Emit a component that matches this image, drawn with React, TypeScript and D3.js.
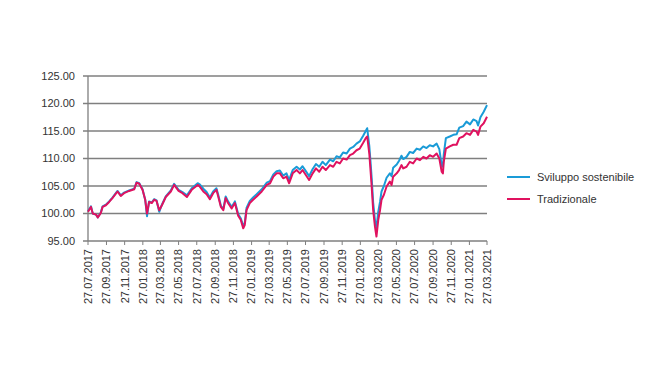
import React from "react";
import * as d3 from "d3";

const dates = [
  "2017-07-27","2017-08-06","2017-08-12","2017-08-23","2017-08-29","2017-09-08","2017-09-14","2017-09-25","2017-10-06","2017-10-17",
  "2017-11-03","2017-11-14","2017-11-25","2017-12-12","2017-12-29","2018-01-06","2018-01-15","2018-01-26","2018-02-04","2018-02-10",
  "2018-02-17","2018-02-26","2018-03-06","2018-03-14","2018-03-23","2018-04-01","2018-04-14","2018-05-01","2018-05-12","2018-05-27",
  "2018-06-09","2018-06-24","2018-07-10","2018-07-30","2018-08-06","2018-08-18","2018-08-29","2018-09-09","2018-09-20","2018-10-01",
  "2018-10-07","2018-10-16","2018-10-24","2018-11-01","2018-11-09","2018-11-21","2018-12-02","2018-12-13","2018-12-22","2018-12-30",
  "2019-01-04","2019-01-10","2019-01-21","2019-02-01","2019-02-13","2019-03-02","2019-03-19","2019-03-30","2019-04-10","2019-04-21",
  "2019-05-02","2019-05-13","2019-05-24","2019-06-02","2019-06-14","2019-06-27","2019-07-08","2019-07-17","2019-07-28","2019-08-08",
  "2019-08-20","2019-08-31","2019-09-11","2019-09-22","2019-10-03","2019-10-17","2019-10-28","2019-11-08","2019-11-19","2019-11-30",
  "2019-12-12","2019-12-23","2020-01-03","2020-01-14","2020-01-25","2020-02-05","2020-02-14","2020-02-19","2020-02-26","2020-03-01",
  "2020-03-05","2020-03-10","2020-03-16","2020-03-21","2020-03-27","2020-04-02","2020-04-07","2020-04-15","2020-04-24","2020-05-05",
  "2020-05-11","2020-05-16","2020-05-28","2020-06-05","2020-06-13","2020-06-19","2020-06-30","2020-07-11","2020-07-22","2020-08-03",
  "2020-08-14","2020-08-25","2020-09-05","2020-09-16","2020-09-27","2020-10-09","2020-10-18","2020-10-26","2020-10-30","2020-11-02",
  "2020-11-09","2020-11-22","2020-12-04","2020-12-15","2020-12-24","2021-01-06","2021-01-17","2021-01-29","2021-02-09","2021-02-20",
  "2021-02-25","2021-03-05","2021-03-16","2021-03-27"
];

const sviluppoSostenibile = [
  100.4,101.3,100.0,99.8,99.3,100.2,101.3,101.6,102.2,102.9,
  104.1,103.3,103.8,104.2,104.5,105.7,105.5,104.4,102.5,99.5,
  102.2,102.0,102.6,102.4,100.3,101.6,103.1,104.2,105.4,104.3,
  103.9,103.3,104.6,105.5,105.3,104.5,103.9,102.9,104.0,104.6,
  103.4,101.4,100.8,103.1,102.2,101.2,102.2,99.9,99.1,97.7,
  98.3,101.0,102.3,102.9,103.5,104.4,105.6,105.9,107.1,107.7,
  107.8,106.9,107.3,106.1,107.9,108.5,108.0,108.6,107.7,106.8,
  108.1,109.0,108.5,109.4,108.8,109.8,109.5,110.4,110.2,111.1,
  110.9,111.8,112.1,112.7,113.1,114.1,115.0,115.5,112.3,109.5,
  106.5,102.0,98.8,97.4,100.3,102.1,104.0,105.0,106.5,107.3,
  106.8,108.3,108.9,109.6,110.5,109.9,110.3,111.2,111.0,111.8,
  111.6,112.2,111.9,112.4,112.2,112.7,111.7,108.7,108.5,110.8,
  113.7,114.0,114.3,114.4,115.6,115.9,116.7,116.2,117.1,116.8,
  116.0,117.5,118.5,119.7
];

const tradizionale = [
  100.3,101.2,100.0,99.8,99.3,100.1,101.2,101.5,102.1,102.8,
  104.0,103.2,103.7,104.1,104.4,105.6,105.4,104.3,102.5,100.0,
  102.1,101.9,102.5,102.3,100.6,101.5,103.0,104.0,105.2,104.1,
  103.7,103.0,104.3,105.2,104.9,104.0,103.5,102.6,103.7,104.3,
  103.1,101.2,100.6,102.8,101.9,100.9,101.9,99.6,98.8,97.3,
  97.9,100.6,101.9,102.5,103.1,104.0,105.2,105.5,106.7,107.3,
  107.3,106.4,106.7,105.5,107.3,107.9,107.3,107.9,107.0,106.1,
  107.3,108.2,107.6,108.5,107.9,108.8,108.5,109.4,109.1,110.0,
  109.8,110.6,110.9,111.5,111.8,112.8,113.7,114.0,110.9,107.9,
  104.9,100.6,97.6,95.8,98.8,100.6,102.5,103.4,104.9,105.8,
  105.2,106.7,107.3,107.9,108.8,108.2,108.5,109.4,109.1,110.0,
  109.7,110.3,110.0,110.6,110.3,110.9,110.0,107.6,107.3,109.4,
  111.8,112.2,112.5,112.5,113.7,114.0,114.6,114.3,115.2,114.9,
  114.3,115.8,116.4,117.6
];

const yTicks = [95, 100, 105, 110, 115, 120, 125];

const xTickLabels = [
  "27.07.2017","27.09.2017","27.11.2017","27.01.2018","27.03.2018","27.05.2018","27.07.2018","27.09.2018",
  "27.11.2018","27.01.2019","27.03.2019","27.05.2019","27.07.2019","27.09.2019","27.11.2019","27.01.2020",
  "27.03.2020","27.05.2020","27.07.2020","27.09.2020","27.11.2020","27.01.2021","27.03.2021"
];

const seriesNames = ["Sviluppo sostenibile", "Tradizionale"];
const seriesColors = ["#1a9bd7", "#e0125f"];

const parseDate = d3.timeParse("%Y-%m-%d");
const parseTick = d3.timeParse("%d.%m.%Y");

export default function App() {
  const W = 670, H = 377;
  const left = 88, right = 487, top = 76, bottom = 241;
  const x = d3.scaleTime()
    .domain([parseTick(xTickLabels[0])!, parseTick(xTickLabels[xTickLabels.length - 1])!])
    .range([left, right]);
  const y = d3.scaleLinear().domain([95, 125]).range([bottom, top]);
  const parsed = dates.map((d) => parseDate(d)!);
  const line = d3.line<number>()
    .x((_, i) => x(parsed[i]))
    .y((v) => y(v));
  const series = [sviluppoSostenibile, tradizionale];
  const font = "'Liberation Sans', Arial, sans-serif";

  return (
    <svg width={W} height={H} style={{ position: "absolute", left: 0, top: 0, background: "#fff" }}>
      {yTicks.map((t) => (
        <g key={t}>
          <line x1={left - 5} x2={right} y1={y(t)} y2={y(t)} stroke="#7f7f7f" strokeWidth={1.3} />
          <text x={left - 13} y={y(t)} dy="0.35em" textAnchor="end" fontFamily={font} fontSize={11} fill="#333">
            {d3.format(".2f")(t)}
          </text>
        </g>
      ))}
      <line x1={left} x2={left} y1={top} y2={bottom} stroke="#7f7f7f" strokeWidth={1.3} />
      {xTickLabels.map((lab) => {
        const xx = x(parseTick(lab)!);
        return (
          <g key={lab}>
            <line x1={xx} x2={xx} y1={bottom} y2={bottom + 4} stroke="#7f7f7f" strokeWidth={1} />
            <text
              transform={`translate(${xx},${bottom + 8}) rotate(-90)`}
              textAnchor="end"
              dy="0.35em"
              fontFamily={font}
              fontSize={11}
              fill="#333"
            >
              {lab}
            </text>
          </g>
        );
      })}
      {series.map((s, i) => (
        <path key={i} d={line(s) || ""} fill="none" stroke={seriesColors[i]} strokeWidth={2} strokeLinejoin="round" />
      ))}
      {seriesNames.map((n, i) => (
        <g key={n}>
          <line x1={507} x2={530} y1={177 + i * 22} y2={177 + i * 22} stroke={seriesColors[i]} strokeWidth={2} />
          <text x={537} y={177 + i * 22} dy="0.35em" fontFamily={font} fontSize={11} fill="#333">
            {n}
          </text>
        </g>
      ))}
    </svg>
  );
}
